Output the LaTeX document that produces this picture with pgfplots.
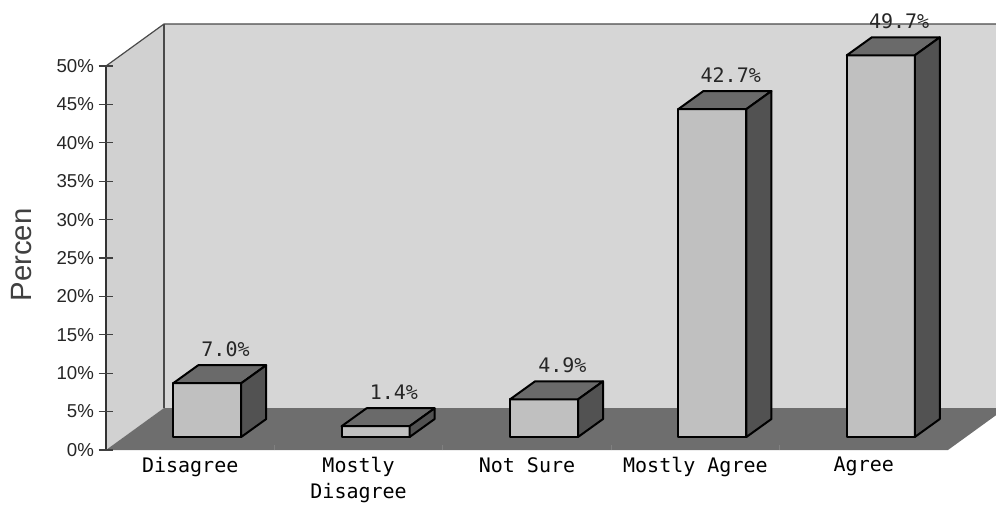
\documentclass[border=0pt]{standalone}
\usepackage{pgfplots}
\usepackage{pgfplotstable}
\usepackage{fontspec}
\pgfplotsset{compat=1.18}
\setmainfont{Liberation Sans}
\newfontfamily\monofont{DejaVu Sans Mono}

\definecolor{wallgray}{HTML}{D6D6D6}
\definecolor{sidewall}{HTML}{D1D1D1}
\definecolor{floorgray}{HTML}{6E6E6E}
\definecolor{barfront}{HTML}{C0C0C0}
\definecolor{bartop}{HTML}{6A6A6A}
\definecolor{barside}{HTML}{525252}
\definecolor{edgegray}{HTML}{4A4A4A}

\pgfplotstableread{
idx share
0 7.0
1 1.4
2 4.9
3 42.7
4 49.7
}\responses

% box depth (axis units)
\def\Dx{0.3444}
\def\Dy{5.469}
% bar geometry relative to its category centre (axis units)
\def\fl{-0.101}
\def\fr{0.303}
\def\fz{1.693}
\def\bdx{0.1485}
\def\bdy{2.344}

\begin{document}
\begin{tikzpicture}
\begin{axis}[
  set layers,
  scale only axis,
  width=631.5pt, height=288pt,
  xmin=-0.5, xmax=4.5, ymin=0, ymax=50,
  clip=false,
  axis on top,
  axis line style={draw=none},
  xtick pos=bottom, ytick pos=left,
  xtick={0,...,4},
  xticklabels={Disagree, Mostly\\Disagree, Not Sure, Mostly Agree, Agree},
  xticklabel style={font=\monofont\fontsize{15}{19.5}\selectfont, align=center, anchor=north, yshift=-2pt},
  major x tick style={draw=none},
  minor xtick={0.5,1.5,2.5,3.5},
  minor x tick style={gray, line width=0.6pt},
  minor tick length=3.5pt,
  ytick={0,5,...,50},
  yticklabel={\pgfmathprintnumber{\tick}\%},
  yticklabel style={font=\fontsize{14}{16}\selectfont, text=black!85},
  /pgf/number format/assume math mode=true,
  ytick align=center,
  major y tick style={black!75, line width=0.8pt},
  major tick length=11pt,
  ylabel={Percen},
  every axis y label/.style={at={([xshift=-63pt]axis description cs:0,0.5078)}, rotate=90, anchor=center, font=\fontsize{22}{24}\selectfont, text=black!75},
  barface/.style={draw=black, line width=1.5pt, line join=round},
]
% walls and floor of the chart box
\begin{pgfonlayer}{axis background}
\fill[sidewall] (axis cs:-0.5,0) -- (axis cs:-0.5,50) -- (axis cs:-0.5+\Dx,50+\Dy) -- (axis cs:-0.5+\Dx,\Dy) -- cycle;
\fill[wallgray] (axis cs:-0.5+\Dx,\Dy) rectangle (axis cs:4.5+\Dx,50+\Dy);
\fill[floorgray] (axis cs:-0.5,0) -- (axis cs:4.5,0) -- (axis cs:4.5+\Dx,\Dy) -- (axis cs:-0.5+\Dx,\Dy) -- cycle;
\draw[edgegray, line width=0.9pt] (axis cs:-0.5,50) -- (axis cs:-0.5+\Dx,50+\Dy) -- (axis cs:4.5+\Dx,50+\Dy);
\draw[edgegray, line width=0.9pt] (axis cs:-0.5+\Dx,\Dy) -- (axis cs:-0.5+\Dx,50+\Dy);
\draw[black!80, line width=1pt] (axis cs:-0.5,0) -- (axis cs:-0.5,50);
\end{pgfonlayer}

% 3-D bars: front, top and side face of each cuboid
\pgfplotsinvokeforeach{0,...,4}{%
  \pgfplotstablegetelem{#1}{share}\of\responses
  \let\barval\pgfplotsretval
  \pgfmathsetmacro\xa{#1+\fl}%
  \pgfmathsetmacro\xb{#1+\fr}%
  \pgfmathsetmacro\xc{#1+\fr+\bdx}%
  \pgfmathsetmacro\xd{#1+\fl+\bdx}%
  \pgfmathsetmacro\ya{\fz}%
  \pgfmathsetmacro\yb{\fz+\barval}%
  \pgfmathsetmacro\yc{\fz+\barval+\bdy}%
  \pgfmathsetmacro\yd{\fz+\bdy}%
  \addplot[barface, fill=barfront] coordinates {(\xa,\ya) (\xb,\ya) (\xb,\yb) (\xa,\yb)} -- cycle;
  \addplot[barface, fill=bartop] coordinates {(\xa,\yb) (\xb,\yb) (\xc,\yc) (\xd,\yc)} -- cycle;
  \addplot[barface, fill=barside] coordinates {(\xb,\ya) (\xc,\yd) (\xc,\yc) (\xb,\yb)} -- cycle;
}

% value labels above each bar
\addplot[draw=none, mark=none, point meta=y,
  nodes near coords={\pgfmathprintnumber[fixed, fixed zerofill, precision=1]{\pgfplotspointmeta}\%},
  every node near coord/.append style={font=\monofont\fontsize{15}{18}\selectfont, text=black!85, anchor=center, xshift=26.5pt, yshift=35.5pt},
] table[x=idx, y=share] {\responses};
\end{axis}
\pgfresetboundingbox
\useasboundingbox (-79.5pt,-43.5pt) rectangle (667.5pt,337.5pt);
\end{tikzpicture}
\end{document}
